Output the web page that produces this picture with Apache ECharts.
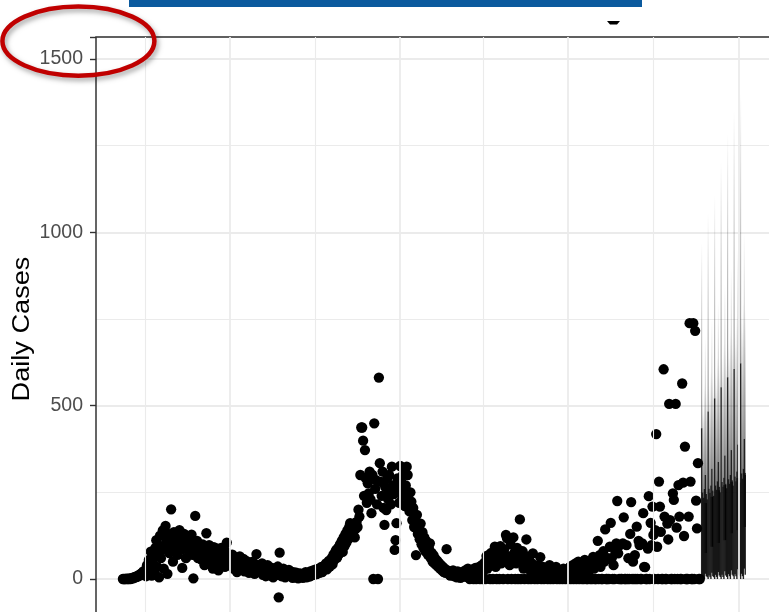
<!DOCTYPE html>
<html><head><meta charset="utf-8">
<script src="https://cdn.jsdelivr.net/npm/echarts@6/dist/echarts.min.js"></script>
<style>html,body{margin:0;padding:0;background:#fff}#c{width:769px;height:612px}</style>
</head><body><div id="c"></div>
<script>
// Day 0 = 1 April 2020; first observation is day -24
const startDay = -24;
const cases = [
  0,0,0,0,1,0,0,2,0,1,
  3,2,5,4,7,6,10,8,12,15,11,18,22,20,
  25,8,40,12,55,30,79,10,48,65,20,90,112,35,70,5,125,
  60,95,140,30,85,153,110,15,130,75,100,201,120,50,135,90,
  118,95,70,125,141,108,85,32,115,130,98,60,122,105,80,112,90,128,70,2,100,182,85,110,60,95,75,
  88,55,100,72,40,95,132,80,60,98,45,85,70,30,92,65,50,88,74,25,80,62,90,48,70,58,35,80,105,66,52,40,
  60,45,70,30,55,38,62,20,50,42,65,28,48,35,58,22,44,52,30,40,18,47,36,25,50,32,15,42,72,28,35,20,
  38,20,45,12,30,25,8,35,40,15,28,10,33,22,5,30,18,26,12,36,-53,76,20,8,24,30,14,5,22,18,10,26,12,
  8,15,3,20,10,5,18,12,2,9,16,6,11,3,14,8,20,5,12,17,7,22,10,15,25,12,18,28,14,22,30,18,26,35,20,26,38,30,45,28,40,52,36,
  48,60,42,70,55,78,84,62,90,72,100,85,110,78,120,95,130,105,140,115,150,161,
  125,155,135,160,120,145,165,150,200,180,300,437,437,399,240,372,
  290,220,276,247,310,230,190,300,0,449,260,285,215,0,581,334,
  280,240,310,205,156,265,199,290,230,300,250,215,324,270,245,84,112,161,290,260,220,326,
  280,240,300,255,210,270,324,300,230,195,250,223,170,205,150,180,69,185,130,151,115,160,100,135,90,
  120,80,110,95,70,88,103,60,75,50,68,45,58,40,52,35,46,30,40,25,35,20,30,18,86,25,15,22,10,18,
  12,25,8,20,15,5,22,10,18,3,14,20,8,12,25,6,16,30,10,0,20,12,28,0,15,32,0,22,10,35,0,18,40,0,25,48,0,66,30,69,
  50,0,75,40,0,60,93,35,0,80,55,0,95,45,70,0,85,50,127,118,0,65,40,100,0,55,120,75,0,45,90,0,60,172,0,50,80,30,0,65,114,40,0,55,25,0,45,74,20,0,
  30,15,0,40,20,63,0,25,35,0,18,30,10,0,22,40,0,15,28,0,12,20,35,0,18,8,0,25,14,0,30,20,0,10,28,0,15,35,0,22,40,0,18,45,0,30,50,0,25,38,
  0,30,0,55,20,0,0,40,25,0,
  48,0,64,30,0,0,45,110,0,69,
  35,0,0,80,50,143,0,0,60,0,
  93,162,60,0,40,0,75,103,225,74,
  0,98,0,0,103,178,0,0,98,0,
  60,0,130,222,0,50,0,69,0,151,
  0,110,98,0,0,103,190,35,34,0,
  0,88,239,0,162,98,209,127,0,141,
  418,93,0,281,209,136,0,0,605,180,
  0,0,160,114,505,170,0,0,247,228,
  0,505,148,0,271,180,0,0,564,278,
  124,382,0,0,0,180,738,281,0,0,
  738,0,716,226,146,334,0,0
];
// daily forecast intervals, days 600..647
const fcDays = [
  600,601,602,603,604,605,606, 607,608,609,610,611,612,613,
  614,615,616,617,618,619,620, 621,622,623,624,625,626,627,
  628,629,630,631,632,633,634, 635,636,637,638,639,640,641,
  642,643,644,645,646,647
];
const fcLow90 = [
  0,10,5,0,15,8,5, 0,10,5,0,18,8,5,
  0,12,6,0,20,10,6, 0,12,6,0,22,10,6,
  0,14,8,0,25,12,8, 0,14,8,0,28,12,8,
  0,15,8,0,30,12
];
const fcHigh90 = [
  435,250,235,260,300,245,230, 483,260,248,270,318,255,240,
  521,270,258,282,338,266,250, 553,280,266,292,356,275,262,
  582,288,275,300,372,285,270, 606,296,282,310,388,292,278,
  622,305,290,318,404,300
];
const fcLow50 = [
  0,0,0,0,75,0,0, 0,0,0,0,93,0,0,
  0,0,0,0,104,0,0, 0,0,0,0,112,0,0,
  0,0,0,0,132,0,0, 0,0,0,0,141,0,0,
  0,0,0,0,150,0
];
const fcHigh50 = [
  0,0,0,0,219,0,0, 0,0,0,0,237,0,0,
  0,0,0,0,256,0,0, 0,0,0,0,271,0,0,
  0,0,0,0,280,0,0, 0,0,0,0,291,0,0,
  0,0,0,0,306,0
];
const fcTop = [
  970,520,480,560,700,540,500, 1056,560,520,600,750,580,540,
  1108,600,560,640,800,620,580, 1203,640,600,680,850,660,620,
  1286,680,640,720,900,700,660, 1353,720,680,760,950,740,700,
  1400,760,720,800,1000,780
];
// vertical grid (quarter starts), majors at Jan/Jul
const gridDays  = [0, 91, 183, 275, 365, 456, 548, 640];
const gridMajor = [false, true, false, true, false, true, false, true];
const yTicks = [0, 500, 1000, 1500];
const yTitle = 'Daily Cases';

const chart = echarts.init(document.getElementById('c'));
const obs = cases.map((v, i) => [startDay + i, v]);
const fc = fcDays.map((d, i) => [d, fcLow90[i], fcHigh90[i], fcLow50[i], fcHigh50[i], fcTop[i]]);

chart.setOption({
  animation: false,
  backgroundColor: '#fff',
  grid: {
    left: 96, top: 37, right: -25.4, bottom: -140.33, z: 5,
    show: true, backgroundColor: 'transparent', borderColor: '#333', borderWidth: 1.5,
    outerBoundsMode: 'none'
  },
  xAxis: {
    type: 'value', min: -53, max: 700,
    axisLine: {show: false, onZero: false}, axisTick: {show: false}, axisLabel: {show: false}, splitLine: {show: false}
  },
  yAxis: {
    type: 'value', min: -500, max: 1563.5, interval: 500,
    axisLine: {show: false, onZero: false},
    axisTick: {show: true, length: 6, lineStyle: {color: '#333', width: 1.4}},
    axisLabel: {
      margin: 13, color: '#4d4d4d', fontSize: 19.5,
      fontFamily: '"Liberation Sans", Arial, sans-serif',
      formatter: v => yTicks.indexOf(v) >= 0 ? String(v) : ''
    },
    splitLine: {show: true, lineStyle: {color: '#ebebeb', width: 1.8}},
    minorTick: {show: false, splitNumber: 2},
    minorSplitLine: {show: true, lineStyle: {color: '#ebebeb', width: 1.1}}
  },
  series: [
    {
      type: 'scatter', data: [], z: 1, silent: true,
      markLine: {
        silent: true, symbol: ['none', 'none'], label: {show: false}, animation: false,
        data: gridDays.map((d, i) => ({xAxis: d, lineStyle: {color: '#ebebeb', type: 'solid', width: gridMajor[i] ? 1.8 : 1.1}}))
      }
    },
    {
      type: 'custom', z: 2, silent: true,
      data: fc,
      encode: {x: 0, y: [1, 2]},
      renderItem: function (params, api) {
        const d = api.value(0);
        const lo = api.coord([d, api.value(1)]);
        const hi = api.coord([d, api.value(2)]);
        const l5 = api.value(3), h5 = api.value(4);
        const top = api.coord([d, api.value(5)]);
        const children = [];
        children.push({
          type: 'line', shape: {x1: hi[0], y1: hi[1], x2: top[0], y2: top[1]},
          style: {lineWidth: 1.1, stroke: new echarts.graphic.LinearGradient(hi[0], hi[1], top[0], top[1],
            [{offset: 0, color: 'rgba(0,0,0,0.45)'}, {offset: 1, color: 'rgba(0,0,0,0)'}], true)}
        });
        children.push({
          type: 'line', shape: {x1: lo[0], y1: lo[1], x2: hi[0], y2: hi[1]},
          style: {lineWidth: 1.4, stroke: 'rgba(0,0,0,0.85)'}
        });
        if (h5 > l5) {
          const a = api.coord([d, l5]), b = api.coord([d, h5]);
          children.push({
            type: 'line', shape: {x1: a[0], y1: a[1], x2: b[0], y2: b[1]},
            style: {lineWidth: 2.8, stroke: '#111'}
          });
        }
        return {type: 'group', children: children};
      }
    },
    {
      type: 'scatter', z: 3, data: obs, symbol: 'circle', symbolSize: 10.3,
      itemStyle: {color: '#000', opacity: 1}, silent: true
    }
  ],
  graphic: [
    {type: 'rect', left: 129, top: 0, shape: {width: 513, height: 7}, style: {fill: '#0b5a9e'}, z: 10},
    {type: 'polygon', shape: {points: [[607, 21], [620, 21], [617, 24.5], [610, 24.5]]}, style: {fill: '#000'}, z: 10},
    {type: 'text', x: 22.5, y: 329, rotation: Math.PI / 2, scaleX: 1.18, z: 10,
      style: {text: yTitle, font: '23px "Liberation Sans", Arial, sans-serif', fill: '#000', align: 'center', verticalAlign: 'middle'}},
    {type: 'ellipse', shape: {cx: 78.4, cy: 41.1, rx: 76, ry: 34.6}, z: 20,
      style: {fill: 'none', stroke: '#c00000', lineWidth: 4.5, shadowBlur: 5, shadowOffsetX: 2, shadowOffsetY: 3, shadowColor: 'rgba(0,0,0,0.35)'}}
  ]
});
</script>
</body></html>
